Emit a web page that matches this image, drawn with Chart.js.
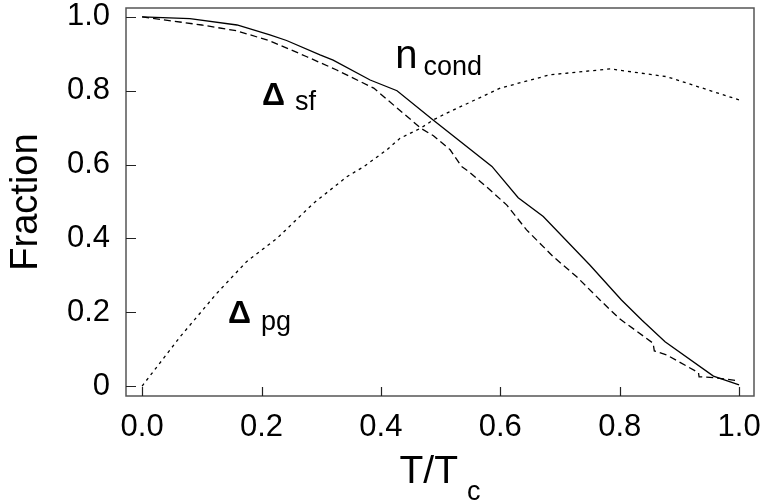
<!DOCTYPE html>
<html>
<head>
<meta charset="utf-8">
<script src="https://cdn.jsdelivr.net/npm/chart.js@4.4.1/dist/chart.umd.min.js"></script>
<style>
  html, body { margin: 0; padding: 0; background: #fff; }
  #wrap { width: 766px; height: 502px; }
</style>
</head>
<body>
<div id="wrap"><canvas id="chart" width="766" height="502"></canvas></div>
<script>
// data (x = T/Tc, y = fraction)
const nCondX = [0, 0.08, 0.159, 0.214, 0.242, 0.298, 0.32, 0.382, 0.427, 0.488, 0.586, 0.63, 0.672, 0.75, 0.803, 0.837, 0.876, 0.957, 1.0];
const nCondY = [1.0, 0.995, 0.978, 0.951, 0.936, 0.897, 0.883, 0.829, 0.80, 0.72, 0.595, 0.51, 0.459, 0.328, 0.233, 0.179, 0.12, 0.027, 0.003];

const sfX = [0, 0.1, 0.159, 0.214, 0.276, 0.326, 0.388, 0.438, 0.468, 0.488, 0.516, 0.535, 0.547, 0.583, 0.611, 0.644, 0.689, 0.728, 0.767, 0.80, 0.856, 0.858, 0.879, 0.932, 0.933, 0.957, 1.0];
const sfY = [1.0, 0.978, 0.962, 0.935, 0.892, 0.856, 0.807, 0.738, 0.697, 0.678, 0.640, 0.595, 0.581, 0.531, 0.49, 0.423, 0.35, 0.296, 0.233, 0.182, 0.116, 0.095, 0.084, 0.036, 0.025, 0.023, 0.014];

const pgX = [0, 0.064, 0.125, 0.175, 0.226, 0.287, 0.343, 0.371, 0.41, 0.432, 0.466, 0.488, 0.51, 0.6, 0.683, 0.784, 0.879, 1.0];
const pgY = [0, 0.134, 0.251, 0.337, 0.40, 0.495, 0.567, 0.594, 0.64, 0.671, 0.698, 0.721, 0.739, 0.807, 0.843, 0.859, 0.838, 0.775];

const xTicks = [0, 0.2, 0.4, 0.6, 0.8, 1.0];
const yTicks = [0, 0.2, 0.4, 0.6, 0.8, 1.0];

// curve labels: main text, subscript, anchor (data coords)
const labelMain = ['n', '\u0394', '\u0394'];
const labelSub = ['cond', 'sf', 'pg'];
const labelX = [0.424, 0.201, 0.144];
const labelY = [0.862, 0.762, 0.171];

const FONT = "'Liberation Sans', Arial, Helvetica, sans-serif";

function toPoints(xs, ys) {
    return xs.map((x, i) => ({ x: x, y: ys[i] }));
}

function lineSet(name, xs, ys, dash) {
    return {
        label: name,
        data: toPoints(xs, ys),
        showLine: true,
        borderColor: '#000',
        borderWidth: 1.3,
        borderDash: dash,
        pointRadius: 0,
        fill: false,
        tension: 0
    };
}

// frame, inward ticks, axis titles and curve labels
const decorations = {
    id: 'decorations',
    afterDatasetsDraw(chart) {
        const ctx = chart.ctx;
        const a = chart.chartArea;
        const sx = chart.scales.x;
        const sy = chart.scales.y;
        ctx.save();
        ctx.strokeStyle = '#555';
        ctx.lineWidth = 1.5;
        ctx.strokeRect(a.left, a.top, a.right - a.left, a.bottom - a.top);
        ctx.strokeStyle = '#222';
        ctx.lineWidth = 1.2;
        ctx.beginPath();
        xTicks.forEach(v => {
            const px = Math.round(sx.getPixelForValue(v)) + 0.5;
            ctx.moveTo(px, a.bottom);
            ctx.lineTo(px, a.bottom - 9);
        });
        yTicks.forEach(v => {
            const py = Math.round(sy.getPixelForValue(v)) + 0.5;
            ctx.moveTo(a.left, py);
            ctx.lineTo(a.left + 10, py);
        });
        ctx.stroke();

        ctx.fillStyle = '#000';
        ctx.textBaseline = 'alphabetic';
        ctx.textAlign = 'left';
        // curve labels
        const mainFont = ['40px ', 'bold 32px ', 'bold 32px '];
        const subGap = [6, 10, 10];
        const subDrop = [7, 5, 7];
        labelMain.forEach((t, i) => {
            const px = sx.getPixelForValue(labelX[i]);
            const py = sy.getPixelForValue(labelY[i]);
            ctx.font = mainFont[i] + FONT;
            ctx.fillText(t, px, py);
            const w = ctx.measureText(t).width;
            ctx.font = '27px ' + FONT;
            ctx.fillText(labelSub[i], px + w + subGap[i], py + subDrop[i]);
        });

        // x title T/Tc
        ctx.font = '39px ' + FONT;
        const main = 'T/T';
        const wMain = ctx.measureText(main).width;
        ctx.font = '27px ' + FONT;
        const wSub = ctx.measureText('c').width;
        const cx = (a.left + a.right) / 2;
        const x0 = cx - (wMain + 9 + wSub) / 2;
        ctx.font = '39px ' + FONT;
        ctx.fillText(main, x0, 483);
        ctx.font = '27px ' + FONT;
        ctx.fillText('c', x0 + wMain + 9, 500);

        // y title
        ctx.translate(27, (a.top + a.bottom) / 2);
        ctx.rotate(-Math.PI / 2);
        ctx.font = '38px ' + FONT;
        ctx.textAlign = 'center';
        ctx.textBaseline = 'middle';
        ctx.fillText('Fraction', 0, 0);
        ctx.restore();
    }
};

const chart = new Chart('chart', {
    type: 'scatter',
    data: {
        datasets: [
            lineSet('n_cond', nCondX, nCondY, []),
            lineSet('Delta_sf', sfX, sfY, [7, 4]),
            lineSet('Delta_pg', pgX, pgY, [3, 4])
        ]
    },
    options: {
        responsive: false,
        animation: false,
        devicePixelRatio: 1,
        layout: { padding: { left: 0, top: 8, right: 12, bottom: 0 } },
        plugins: { legend: { display: false }, tooltip: { enabled: false } },
        scales: {
            x: {
                type: 'linear',
                min: -0.027,
                max: 1.025,
                grid: { display: false, drawTicks: false },
                border: { display: false },
                afterBuildTicks: s => { s.ticks = xTicks.map(v => ({ value: v })); },
                afterFit: s => {
                    s.height = 106;
                    s.paddingLeft = 0;
                    s.paddingRight = 0;
                },
                ticks: {
                    color: '#000',
                    padding: 13,
                    maxRotation: 0,
                    font: { family: FONT, size: 31 },
                    callback: v => v.toFixed(1)
                }
            },
            y: {
                type: 'linear',
                min: -0.027,
                max: 1.024,
                grid: { display: false, drawTicks: false },
                border: { display: false },
                afterBuildTicks: s => { s.ticks = yTicks.map(v => ({ value: v })); },
                afterFit: s => {
                    s.width = 126;
                    s.paddingTop = 0;
                    s.paddingBottom = 0;
                },
                ticks: {
                    color: '#000',
                    padding: 16,
                    font: { family: FONT, size: 31 },
                    callback: v => (v === 0 ? '0' : v.toFixed(1))
                }
            }
        }
    },
    plugins: [decorations]
});
</script>
</body>
</html>
